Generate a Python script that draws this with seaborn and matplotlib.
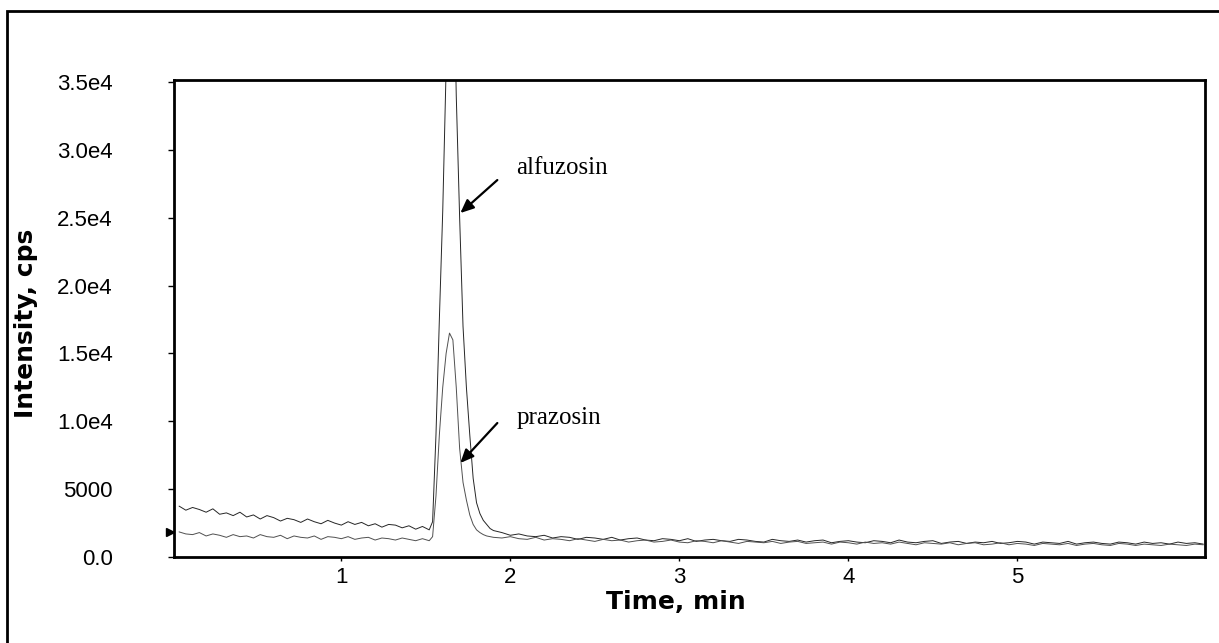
import numpy as np
import pandas as pd
import matplotlib
matplotlib.use("Agg")
import matplotlib.pyplot as plt
import matplotlib.transforms as mtransforms
from matplotlib.patches import Rectangle
import seaborn as sns

# ---------------- data ----------------
time_min = [
    0.04, 0.08, 0.12, 0.16, 0.20, 0.24, 0.28, 0.32, 0.36, 0.40,
    0.44, 0.48, 0.52, 0.56, 0.60, 0.64, 0.68, 0.72, 0.76, 0.80,
    0.84, 0.88, 0.92, 0.96, 1.00, 1.04, 1.08, 1.12, 1.16, 1.20,
    1.24, 1.28, 1.32, 1.36, 1.40, 1.44, 1.48, 1.52,
    1.54, 1.56, 1.58, 1.60, 1.62, 1.64, 1.66, 1.68, 1.70, 1.72,
    1.74, 1.76, 1.78, 1.80, 1.82, 1.84, 1.86, 1.88, 1.90,
    1.95, 2.00, 2.05, 2.10, 2.15, 2.20, 2.25, 2.30, 2.35, 2.40,
    2.45, 2.50, 2.55, 2.60, 2.65, 2.70, 2.75, 2.80, 2.85, 2.90,
    2.95, 3.00, 3.05, 3.10, 3.15, 3.20, 3.25, 3.30, 3.35, 3.40,
    3.45, 3.50, 3.55, 3.60, 3.65, 3.70, 3.75, 3.80, 3.85, 3.90,
    3.95, 4.00, 4.05, 4.10, 4.15, 4.20, 4.25, 4.30, 4.35, 4.40,
    4.45, 4.50, 4.55, 4.60, 4.65, 4.70, 4.75, 4.80, 4.85, 4.90,
    4.95, 5.00, 5.05, 5.10, 5.15, 5.20, 5.25, 5.30, 5.35, 5.40,
    5.45, 5.50, 5.55, 5.60, 5.65, 5.70, 5.75, 5.80, 5.85, 5.90,
    5.95, 6.00, 6.05, 6.10,
]

alfuzosin_cps = [
    3750, 3450, 3650, 3500, 3300, 3550, 3150, 3250, 3050, 3300,
    2950, 3100, 2800, 3050, 2900, 2650, 2850, 2750, 2550, 2800,
    2600, 2450, 2700, 2500, 2350, 2600, 2400, 2550, 2300, 2450,
    2200, 2400, 2350, 2150, 2300, 2050, 2250, 2000,
    2600, 9000, 17500, 25500, 36000, 52000, 47000, 34000, 25000, 17000,
    12500, 9000, 5800, 4000, 3200, 2700, 2400, 2100, 1950,
    1800, 1600, 1700, 1550, 1500, 1600, 1400, 1500, 1450, 1300,
    1450, 1400, 1300, 1450, 1250, 1350, 1400, 1250, 1200, 1350,
    1300, 1200, 1350, 1150, 1250, 1300, 1200, 1150, 1300, 1250,
    1150, 1100, 1300, 1200, 1150, 1250, 1100, 1200, 1250, 1050,
    1150, 1200, 1100, 1050, 1200, 1150, 1050, 1250, 1100, 1050,
    1150, 1200, 1000, 1100, 1150, 1000, 1100, 1050, 1150, 1000,
    1050, 1150, 1100, 950, 1100, 1050, 1000, 1150, 950, 1050,
    1100, 1000, 950, 1100, 1050, 950, 1100, 1000, 1050, 950,
    1100, 1000, 1050, 950,
]

prazosin_cps = [
    1850, 1700, 1650, 1800, 1550, 1700, 1600, 1450, 1650, 1500,
    1550, 1400, 1650, 1500, 1450, 1600, 1350, 1550, 1450, 1400,
    1550, 1300, 1500, 1450, 1350, 1500, 1300, 1400, 1450, 1250,
    1400, 1350, 1250, 1400, 1300, 1200, 1350, 1200,
    1500, 4500, 9000, 12500, 15000, 16500, 16000, 12500, 8000, 5500,
    4200, 3100, 2400, 2000, 1800, 1650, 1550, 1500, 1450,
    1400, 1500, 1350, 1300, 1450, 1250, 1350, 1300, 1200, 1350,
    1250, 1150, 1300, 1200, 1250, 1100, 1200, 1250, 1100, 1150,
    1250, 1100, 1050, 1200, 1150, 1050, 1200, 1100, 1000, 1150,
    1100, 1050, 1150, 1000, 1100, 1150, 1000, 1050, 1100, 950,
    1100, 1050, 950, 1100, 1000, 1050, 950, 1100, 1000, 900,
    1050, 1000, 950, 1050, 900, 1000, 1050, 900, 950, 1050,
    900, 1000, 950, 850, 1000, 950, 900, 1000, 850, 950,
    1000, 900, 850, 1000, 950, 850, 950, 900, 850, 950,
    900, 850, 950, 900,
]

trace_names = ["alfuzosin", "prazosin"]
y_ticks = [0, 5000, 10000, 15000, 20000, 25000, 30000, 35000]
y_tick_labels = ["0.0", "5000", "1.0e4", "1.5e4", "2.0e4", "2.5e4", "3.0e4", "3.5e4"]
x_ticks = [1, 2, 3, 4, 5]
x_tick_labels = ["1", "2", "3", "4", "5"]

df = pd.DataFrame({
    "time": time_min + time_min,
    "intensity": alfuzosin_cps + prazosin_cps,
    "trace": [trace_names[0]] * len(time_min) + [trace_names[1]] * len(time_min),
})

# ---------------- figure ----------------
sns.set_style("white")
plt.rcParams["font.family"] = ["Liberation Sans", "DejaVu Sans"]
plt.rcParams["text.color"] = "black"
plt.rcParams["axes.labelcolor"] = "black"
plt.rcParams["xtick.color"] = "black"
plt.rcParams["ytick.color"] = "black"

W, H = 1219, 643
fig = plt.figure(figsize=(W / 100, H / 100), dpi=100)
ax = fig.add_axes([174 / W, 1 - 557 / H, (1205 - 174) / W, (557 - 80) / H])

sns.lineplot(data=df, x="time", y="intensity", hue="trace",
             palette={"alfuzosin": "#262626", "prazosin": "#505050"},
             estimator=None, linewidth=0.7, legend=False, ax=ax)

ax.set_xlim(0.01, 6.11)
ax.set_ylim(0, 35150)

ax.set_yticks(y_ticks)
ax.set_yticklabels(y_tick_labels)
ax.set_xticks(x_ticks)
ax.set_xticklabels(x_tick_labels)
ax.tick_params(axis="y", direction="out", length=4, width=1, pad=40,
               labelsize=16, colors="black", left=True)
ax.tick_params(axis="x", direction="out", length=3, width=1, pad=4,
               labelsize=16, colors="black", bottom=True)

for sp in ax.spines.values():
    sp.set_visible(True)
    sp.set_color("black")
    sp.set_linewidth(2.0)

ax.set_xlabel("Time, min", fontsize=18, fontweight="bold", family="DejaVu Sans",
              color="black")
ax.set_ylabel("Intensity, cps", fontsize=18, fontweight="bold", family="DejaVu Sans",
              color="black")
ax.xaxis.set_label_coords(0.487, -0.069)
ax.yaxis.set_label_coords(-0.132, 0.49)

# baseline marker on left edge
trans = mtransforms.blended_transform_factory(ax.transAxes, ax.transData)
ax.plot([-0.004], [prazosin_cps[0]], transform=trans, marker=">", color="black",
        markersize=6, clip_on=False, linestyle="none")

# annotations
ax.annotate("", xy=(1.704, 25346), xytext=(1.923, 27778),
            arrowprops=dict(arrowstyle="-|>,head_length=0.8,head_width=0.35",
                            color="black", lw=1.6, shrinkA=0, shrinkB=0))
ax.annotate("", xy=(1.704, 6926), xytext=(1.923, 9873),
            arrowprops=dict(arrowstyle="-|>,head_length=0.8,head_width=0.35",
                            color="black", lw=1.6, shrinkA=0, shrinkB=0))
ax.text(2.036, 28662, "alfuzosin", fontsize=18, family="Liberation Serif",
        ha="left", va="center", color="black")
ax.text(2.036, 10270, "prazosin", fontsize=18, family="Liberation Serif",
        ha="left", va="center", color="black")

# outer frame (cropped on right and bottom in the original)
fig.add_artist(Rectangle((7 / W, -0.1), 1.2, 1 - 11 / H + 0.1,
                         transform=fig.transFigure, fill=False,
                         edgecolor="black", linewidth=2.0))

fig.savefig("out.png", dpi=100)
